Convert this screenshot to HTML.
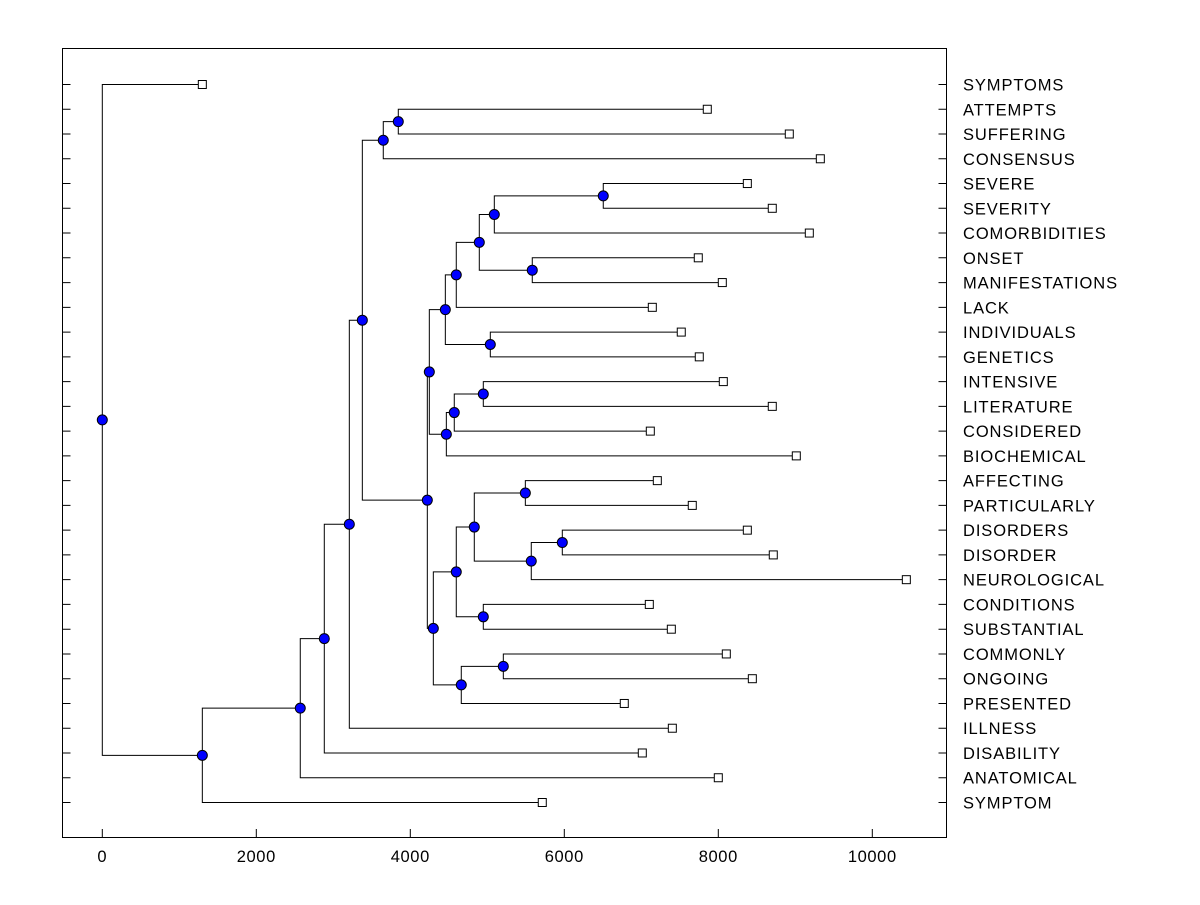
<!DOCTYPE html>
<html><head><meta charset="utf-8"><style>
body{margin:0;background:#fff}
svg text{font-family:"Liberation Sans",Arial,sans-serif;font-size:16.5px;fill:#000}
svg text.lbl{letter-spacing:0.9px}
svg text.tk{letter-spacing:0.6px}
</style></head><body>
<svg id="chart" width="1200" height="900" xmlns="http://www.w3.org/2000/svg">
<rect x="62.5" y="48.5" width="884" height="789" fill="none" stroke="#000" stroke-width="1"/>
<g id="links"></g><g id="nodes"></g><g id="axes"></g>
</svg>
<script>
const labels=["SYMPTOMS","ATTEMPTS","SUFFERING","CONSENSUS","SEVERE","SEVERITY","COMORBIDITIES","ONSET","MANIFESTATIONS","LACK","INDIVIDUALS","GENETICS","INTENSIVE","LITERATURE","CONSIDERED","BIOCHEMICAL","AFFECTING","PARTICULARLY","DISORDERS","DISORDER","NEUROLOGICAL","CONDITIONS","SUBSTANTIAL","COMMONLY","ONGOING","PRESENTED","ILLNESS","DISABILITY","ANATOMICAL","SYMPTOM"];
const leafValues=[1299,7857,8922,9325,8377,8701,9182,7740,8052,7143,7519,7753,8065,8701,7117,9013,7208,7662,8377,8714,10442,7104,7390,8104,8442,6779,7403,7013,8000,5714];
const mergeNames=["H","R","Q","P","O","M","N","K","T","S","L","I","Y","AA","Z","W","X","U","AB","V","J","G","F","E","D","C","B","A","root"];
const mergeHeights=[3844,6506,5584,5091,4896,4597,5039,4455,4948,4571,4468,4247,5494,5974,5571,4831,4948,4597,5208,4662,4299,4221,3649,3377,3208,2883,2571,1299,0];
const mergeChildren=[[1,2],[4,5],[7,8],["R",6],["P","Q"],["O",9],[10,11],["M","N"],[12,13],["T",14],["S",15],["K","L"],[16,17],[18,19],["AA",20],["Y","Z"],[21,22],["W","X"],[23,24],["AB",25],["U","V"],["I","J"],["H",3],["F","G"],["E",26],["D",27],["C",28],["B",29],[0,"A"]];
const xTicks=[0,2000,4000,6000,8000,10000];

const NS="http://www.w3.org/2000/svg";
const xS=v=>102.3+v*0.0770;
const yS=i=>84.5+i*(802.5-84.5)/(labels.length-1);
function mk(t,a,p){const e=document.createElementNS(NS,t);for(const k in a)e.setAttribute(k,a[k]);p.appendChild(e);return e;}
const gl=document.getElementById('links'),gn=document.getElementById('nodes'),ga=document.getElementById('axes');
const pos={};
labels.forEach((l,i)=>{pos[i]={x:xS(leafValues[i]),y:yS(i)};});
mergeNames.forEach((n,k)=>{
  const x=xS(mergeHeights[k]);const [a,b]=mergeChildren[k].map(c=>pos[c]);
  const p=mk('path',{d:`M${a.x},${a.y}H${x}V${b.y}H${b.x}`,fill:'none',stroke:'#000','stroke-width':1},gl);
  
  
  pos[n]={x:x,y:(a.y+b.y)/2};
});
labels.forEach((l,i)=>{
  const r=mk('rect',{x:pos[i].x-4,y:pos[i].y-4,width:8,height:8,fill:'#fff',stroke:'#000'},gn);
  
  
  const t=mk('text',{x:963,y:yS(i)+6,class:'lbl'},ga);t.textContent=l;
  
  
  const tk=mk('path',{d:`M62.5,${yS(i)}h8M938.5,${yS(i)}h8`,stroke:'#000'},ga);
  
  
});
mergeNames.forEach(n=>{
  const c=mk('circle',{cx:pos[n].x,cy:pos[n].y,r:5,fill:'#0000ff',stroke:'#000','stroke-width':1},gn);
  
  
});
xTicks.forEach(v=>{
  const tk=mk('path',{d:`M${xS(v)},838V829`,stroke:'#000'},ga);
  
  
  const t=mk('text',{x:xS(v),y:862,'text-anchor':'middle',class:'tk'},ga);t.textContent=v;
  
  
});
</script>
</body></html>
